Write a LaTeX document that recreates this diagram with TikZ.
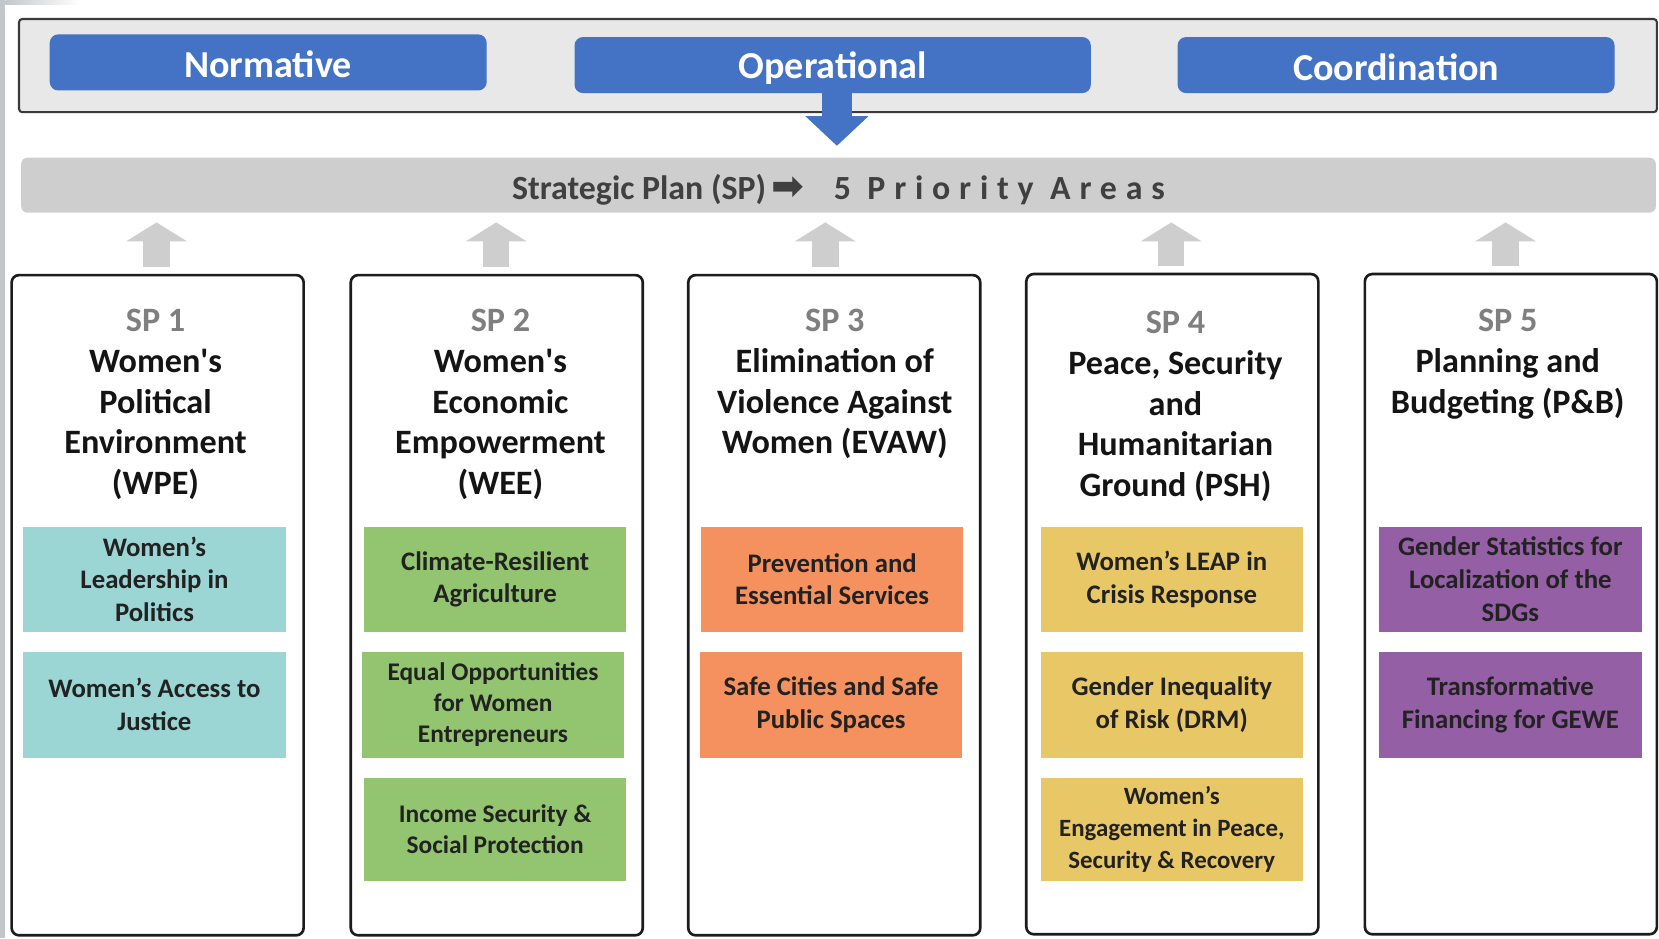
\documentclass[tikz,border=0pt]{standalone}
\usepackage{fontspec}
\setmainfont{Carlito}
\newfontfamily\symfont{DejaVu Sans}
\usetikzlibrary{arrows.meta,calc}
\definecolor{blueA}{HTML}{4472C4}
\definecolor{topfill}{HTML}{E8E8E8}
\definecolor{topborder}{HTML}{3A3A3A}
\definecolor{bandfill}{HTML}{CFCECE}
\definecolor{bandtext}{HTML}{404040}
\definecolor{colborder}{HTML}{1C1C1C}
\definecolor{titlecol}{HTML}{141414}
\definecolor{spgray}{HTML}{7F7F7F}
\definecolor{subtext}{HTML}{222222}
\definecolor{tealc}{HTML}{9BD5D4}
\definecolor{greenc}{HTML}{93C571}
\definecolor{orangec}{HTML}{F4915F}
\definecolor{yellowc}{HTML}{E8C866}
\definecolor{purplec}{HTML}{955FA5}
\definecolor{stripc}{HTML}{C4C7CA}
\newcommand{\lowerby}[2]{\raisebox{-#1}[\height][\depth]{#2}}
\begin{document}
\begin{tikzpicture}[x=1pt,y=-1pt,
  topbox/.style={draw=topborder, line width=2pt, fill=topfill, rounded corners=3pt, minimum width=1548pt, minimum height=88pt, inner sep=0pt},
  lever/.style={fill=blueA, rounded corners=8pt, text=white, font=\fontsize{36}{40}\selectfont\bfseries, inner sep=0pt, minimum height=53pt},
  bandbox/.style={fill=bandfill, rounded corners=6pt, minimum width=1545pt, minimum height=52pt, inner sep=0pt, text=bandtext, font=\fontsize{32}{36}\selectfont\bfseries},
  colbox/.style={draw=colborder, line width=2.5pt, fill=white, rounded corners=7pt, minimum width=276pt, minimum height=624pt, inner sep=0pt},
  title/.style={align=center, font=\fontsize{32.3}{38.5}\selectfont\bfseries, text=titlecol, inner sep=0pt, anchor=north},
  subbox/.style={minimum width=248pt, minimum height=99pt, inner sep=0pt, align=center, font=\fontsize{25.3}{31}\selectfont\bfseries, text=subtext},
  uparrow/.style={draw=bandfill, line width=25pt, -{Triangle[width=57pt,length=18pt]}, shorten <=6pt, shorten >=9pt},
  downarrow/.style={draw=blueA, line width=28pt, -{Triangle[width=58pt,length=28pt]}, shorten >=11pt}
]
\useasboundingbox (0,0) rectangle (1568,887);
\fill[stripc] (0,0) rectangle (5,887);
\shade[left color=stripc, right color=white] (5,0) rectangle (75,4);

% top levers
\node[topbox] (top) at (792,62) {};
\node[lever, minimum width=413pt] (norm) at (253.5,59) {\lowerby{2pt}{Normative}};
\node[lever, minimum width=488pt] (op) at (787,61.5) {\lowerby{3pt}{Operational}};
\node[lever, minimum width=413pt] (coord) at (1319.5,61.5) {\lowerby{2pt}{Coordination}};

% band
\node[bandbox] (band) at (792.5,175) {\lowerby{4pt}{Strategic Plan (SP)\hspace{5pt}{\symfont\fontsize{37}{37}\selectfont ➡}\hspace{28pt}{\addfontfeature{LetterSpace=26}5 Priority Areas}}\hspace{0pt}};

% blue arrow
\coordinate (opa) at ($(op.south)+(4,0)$);
\draw[downarrow] (opa) -- (opa |- band.north);

% columns
\node[colbox] (sp1) at (149,572) {};
\node[colbox] (sp2) at (469.5,572) {};
\node[colbox] (sp3) at (788.5,572) {};
\node[colbox] (sp4) at (1108,571) {};
\node[colbox] (sp5) at (1428,571) {};

% up arrows
\coordinate (a1) at ($(sp1.north)+(-1,0)$);
\coordinate (a2) at ($(sp2.north)+(-0.5,0)$);
\coordinate (a3) at ($(sp3.north)+(-8.5,0)$);
\coordinate (a4) at ($(sp4.north)+(-1,0)$);
\coordinate (a5) at ($(sp5.north)+(-5,0)$);
\foreach \a in {a1,a2,a3,a4,a5}{\draw[uparrow] (\a) -- (\a |- band.south);}

% titles
\node[title] (t1) at (147,292) {{\color{spgray}SP 1}\\Women\textquotesingle s\\Political\\Environment\\(WPE)};
\node[title] (t2) at (473,292) {{\color{spgray}SP 2}\\Women\textquotesingle s\\Economic\\Empowerment\\(WEE)};
\node[title] (t3) at (789,292) {{\color{spgray}SP 3}\\Elimination of\\Violence Against\\Women (EVAW)};
\node[title] (t4) at (1111,294) {{\color{spgray}SP 4}\\Peace, Security\\and\\Humanitarian\\Ground (PSH)};
\node[title] (t5) at (1425,292) {{\color{spgray}SP 5}\\Planning and\\Budgeting (P\&B)};

% sub boxes
\node[subbox, fill=tealc] (s11) at (146,547.5) {Women’s\\Leadership in\\Politics};
\node[subbox, fill=tealc, minimum height=100pt] (s12) at (146,666) {Women’s Access to\\Justice};

\node[subbox, fill=greenc] (s21) at (468,547.5) {Climate-Resilient\\Agriculture};
\node[subbox, fill=greenc, minimum height=100pt, font=\fontsize{24}{29}\selectfont\bfseries] (s22) at (466,666) {Equal Opportunities\\for Women\\Entrepreneurs};
\node[subbox, fill=greenc, minimum height=98pt, font=\fontsize{24}{29}\selectfont\bfseries] (s23) at (468,784) {Income Security \&\\Social Protection};

\node[subbox, fill=orangec] (s31) at (786.5,547.5) {Prevention and\\Essential Services};
\node[subbox, fill=orangec, minimum height=100pt] (s32) at (785.5,666) {Safe Cities and Safe\\Public Spaces};

\node[subbox, fill=yellowc] (s41) at (1107.5,547.5) {Women’s LEAP in\\Crisis Response};
\node[subbox, fill=yellowc, minimum height=100pt] (s42) at (1107.5,666) {Gender Inequality\\of Risk (DRM)};
\node[subbox, fill=yellowc, minimum height=98pt, font=\fontsize{23.5}{30}\selectfont\bfseries] (s43) at (1107.5,784) {Women’s\\Engagement in Peace,\\Security \& Recovery};

\node[subbox, fill=purplec] (s51) at (1427.5,547.5) {Gender Statistics for\\Localization of the\\SDGs};
\node[subbox, fill=purplec, minimum height=100pt] (s52) at (1427.5,666) {Transformative\\Financing for GEWE};
\end{tikzpicture}
\end{document}
